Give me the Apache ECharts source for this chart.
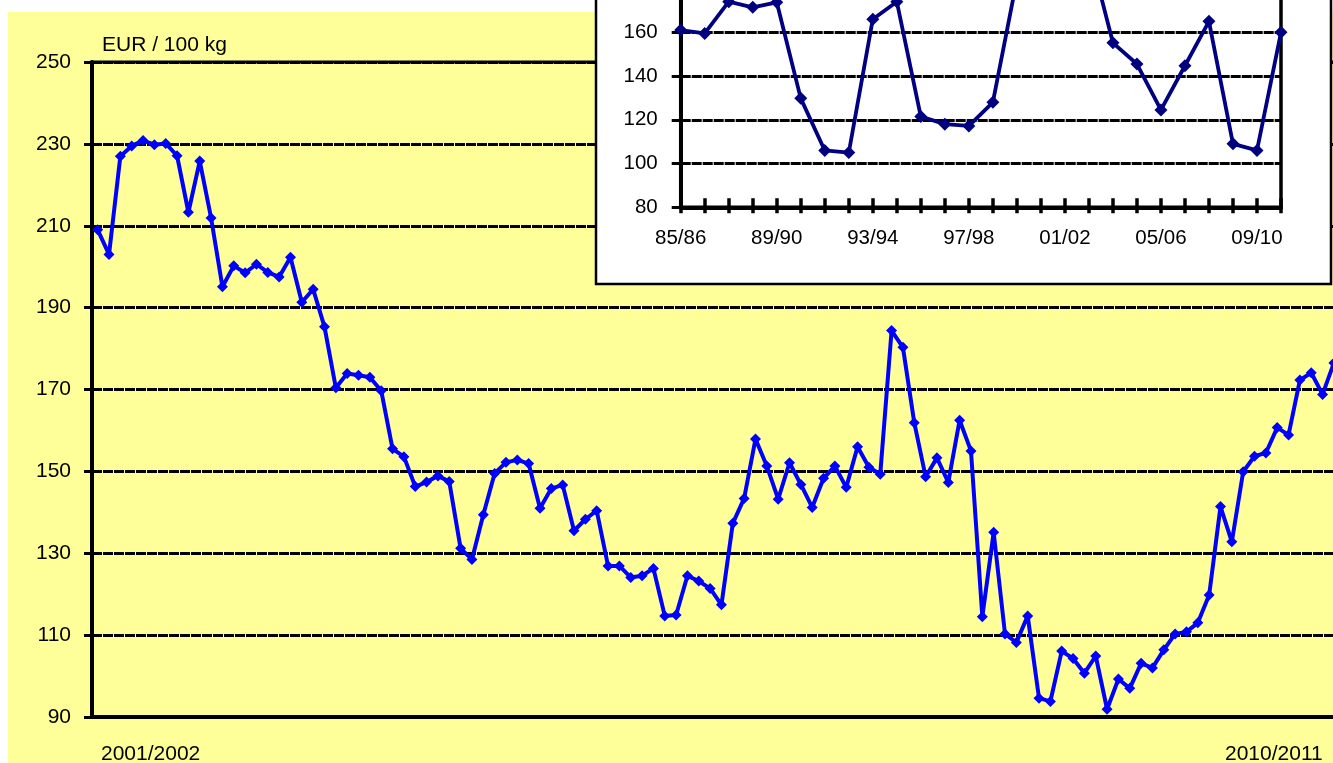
<!DOCTYPE html>
<html>
<head>
<meta charset="utf-8">
<script src="https://cdn.jsdelivr.net/npm/echarts@6/dist/echarts.min.js"></script>
<style>
html,body{margin:0;padding:0;background:#fff;}
#chart{width:1333px;height:763px;}
</style>
</head>
<body>
<div id="chart"></div>
<script>
// ---- data ----
const seasons = ['2001/2002','2002/2003','2003/2004','2004/2005','2005/2006','2006/2007','2007/2008','2008/2009','2009/2010','2010/2011'];
const xTickLabels = ['2001/2002', '2010/2011'];
const monthlyPrice = [
  209.0, 203.0, 227.0, 229.5, 230.8, 229.8, 230.1, 227.1, 213.3, 225.8, 211.9, 195.1,
  200.2, 198.5, 200.6, 198.6, 197.5, 202.3, 191.3, 194.5, 185.3, 170.4, 173.9, 173.5,
  173.0, 169.7, 155.5, 153.6, 146.3, 147.4, 148.9, 147.5, 131.2, 128.5, 139.4, 149.5,
  152.2, 152.8, 151.9, 141.0, 145.8, 146.7, 135.5, 138.3, 140.4, 126.9, 126.9, 124.1,
  124.5, 126.3, 114.7, 114.9, 124.5, 123.2, 121.4, 117.4, 137.3, 143.4, 157.9, 151.3,
  143.2, 152.1, 146.8, 141.2, 148.3, 151.3, 146.1, 156.0, 151.0, 149.3, 184.4, 180.3,
  161.9, 148.7, 153.3, 147.3, 162.5, 155.0, 114.5, 135.1, 110.3, 108.2, 114.7, 94.6,
  93.8, 106.1, 104.3, 100.7, 104.9, 91.9, 99.3, 97.0, 103.1, 102.0, 106.4, 110.3,
  110.8, 113.0, 119.8, 141.4, 132.8, 149.9, 153.7, 154.5, 160.7, 158.9, 172.3, 174.1,
  168.8, 176.5
];
const insetSeasons = ['85/86','86/87','87/88','88/89','89/90','90/91','91/92','92/93','93/94','94/95','95/96','96/97','97/98','98/99','99/00','00/01','01/02','02/03','03/04','04/05','05/06','06/07','07/08','08/09','09/10','10/11'];
const insetPrice = [161, 159.5, 174, 171.4, 173.7, 129.8, 106, 105, 166, 174, 121.5, 118, 117.2, 128, 184, 200, 215, 198, 155.2, 145.5, 124.5, 144.7, 165, 109, 106, 160];
const yUnit = 'EUR / 100 kg';

// month categories (12 per season)
const monthCats = [];
seasons.forEach(s => { for (let m = 1; m <= 12; m++) monthCats.push(s + '-' + m); });

const FONT = 'Liberation Sans, Arial, sans-serif';
const chart = echarts.init(document.getElementById('chart'));
const gridDash = [10, 1];

chart.setOption({
  animation: false,
  backgroundColor: '#ffffff',
  graphic: [
    { type: 'rect', z: -10, shape: { x: 8, y: 12, width: 1400, height: 800 }, style: { fill: '#FFFF99' } },
    { type: 'rect', z: 5, shape: { x: 596, y: -20, width: 735, height: 304 }, style: { fill: '#ffffff', stroke: '#000000', lineWidth: 2.5 } },
    { type: 'text', z: 6, x: 101, y: 754, style: { text: xTickLabels[0], fontSize: 21, fontFamily: FONT, fill: '#000', align: 'left', verticalAlign: 'middle', textAlign: 'left', textVerticalAlign: 'middle' } },
    { type: 'text', z: 6, x: 1225, y: 754, style: { text: xTickLabels[1], fontSize: 21, fontFamily: FONT, fill: '#000', align: 'left', verticalAlign: 'middle', textAlign: 'left', textVerticalAlign: 'middle' } }
  ],
  grid: [
    { left: 92, top: 62, width: 1361, height: 655, outerBoundsMode: 'none', containLabel: false, show: true, borderColor: '#000', borderWidth: 3, backgroundColor: 'transparent', z: 0 },
    { left: 680.7, top: -142.7, width: 600.3, height: 350, outerBoundsMode: 'none', containLabel: false, show: true, borderColor: '#000', borderWidth: 3.5, backgroundColor: 'transparent', z: 10 }
  ],
  xAxis: [
    {
      type: 'category', gridIndex: 0, data: monthCats, boundaryGap: true,
      axisLine: { show: true, lineStyle: { color: '#000', width: 4 } },
      axisTick: { show: false }, axisLabel: { show: false }, splitLine: { show: false }
    },
    {
      type: 'category', gridIndex: 1, data: insetSeasons, boundaryGap: false, position: 'bottom', z: 10,
      axisLine: { show: true, lineStyle: { color: '#000', width: 4 } },
      axisTick: { show: true, interval: 0, length: 6, lineStyle: { color: '#000', width: 3.5 } },
      axisLabel: { show: true, interval: 3, margin: 21, fontSize: 20.5, fontFamily: FONT, color: '#000' },
      splitLine: { show: false }
    },
    {
      type: 'category', gridIndex: 1, data: insetSeasons, boundaryGap: false, position: 'bottom', offset: 0, z: 10,
      axisLine: { show: false },
      axisTick: { show: true, inside: true, interval: 0, length: 9, lineStyle: { color: '#000', width: 3.5 } },
      axisLabel: { show: false }, splitLine: { show: false }
    }
  ],
  yAxis: [
    {
      type: 'value', gridIndex: 0, min: 90, max: 250, interval: 20,
      name: yUnit, nameLocation: 'end', nameGap: 17,
      nameTextStyle: { fontSize: 21, fontFamily: FONT, color: '#000', align: 'left', verticalAlign: 'middle', padding: [0, 0, 0, 10] },
      axisLine: { show: true, lineStyle: { color: '#000', width: 4 } },
      axisTick: { show: true, length: 8, lineStyle: { color: '#000', width: 3 } },
      axisLabel: { margin: 21, fontSize: 21, fontFamily: FONT, color: '#000' },
      splitLine: { show: true, lineStyle: { color: '#000', width: 3.2, type: gridDash } }
    },
    {
      type: 'value', gridIndex: 1, min: 80, max: 240, interval: 20, z: 10,
      axisLine: { show: true, lineStyle: { color: '#000', width: 4 } },
      axisTick: { show: true, length: 9, lineStyle: { color: '#000', width: 3 } },
      axisLabel: { margin: 23, fontSize: 20.5, fontFamily: FONT, color: '#000' },
      splitLine: { show: true, lineStyle: { color: '#000', width: 3.2, type: gridDash } }
    }
  ],
  series: [
    {
      type: 'line', xAxisIndex: 0, yAxisIndex: 0, data: monthlyPrice, z: 2,
      symbol: 'diamond', symbolSize: 11, showSymbol: true, showAllSymbol: true,
      lineStyle: { color: '#0000FF', width: 4 },
      itemStyle: { color: '#0000FF' }
    },
    {
      type: 'line', xAxisIndex: 1, yAxisIndex: 1, data: insetPrice, z: 12,
      symbol: 'diamond', symbolSize: 13, showSymbol: true, showAllSymbol: true,
      lineStyle: { color: '#000080', width: 3.8 },
      itemStyle: { color: '#000080' }
    }
  ]
});
</script>
</body>
</html>
